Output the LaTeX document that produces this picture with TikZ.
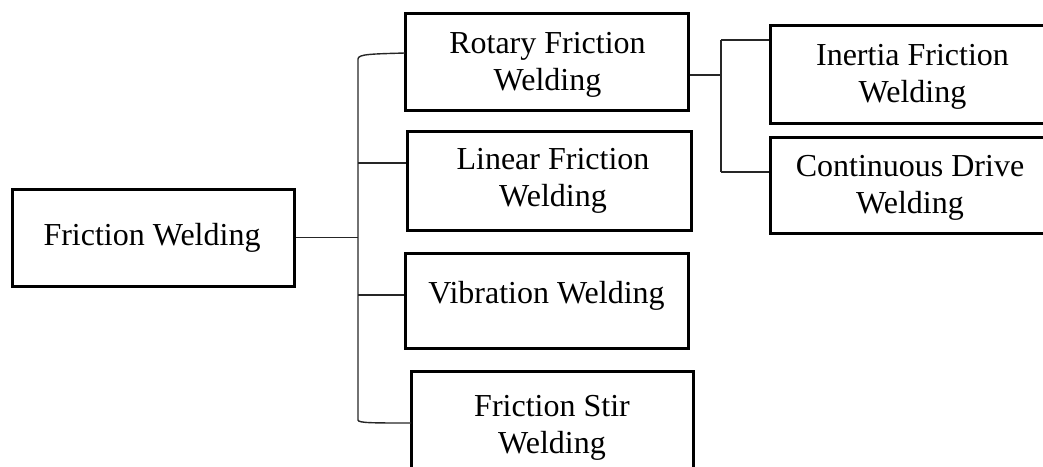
\documentclass[tikz,border=0pt]{standalone}
\usepackage{fontspec}
\setmainfont{Liberation Serif}
\begin{document}
\begin{tikzpicture}[x=1pt,y=-1pt,
  box/.style={draw=black,line width=3pt,inner sep=0pt,fill=none},
  lbl/.style={font=\fontsize{32}{37}\selectfont,align=center,anchor=base,inner sep=0pt},
  link/.style={draw=black!85,line width=1.4pt}]
\useasboundingbox (0,0) rectangle (1043,466);
\clip (0,0) rectangle (1043,466);

% boxes
\node[box,minimum width=282pt,minimum height=97pt] (fw)    at (153,237.5) {};
\node[box,minimum width=283pt,minimum height=97pt] (rot)   at (546.5,61.5) {};
\node[box,minimum width=284pt,minimum height=99pt] (lin)   at (549,180.5) {};
\node[box,minimum width=283pt,minimum height=95pt] (vib)   at (546.5,300.5) {};
\node[box,minimum width=282pt,minimum height=99pt] (stir)  at (552,420.5) {};
\node[box,minimum width=285pt,minimum height=98pt] (inert) at (912.5,74) {};
\node[box,minimum width=280pt,minimum height=96pt] (cd)    at (910,185) {};

% labels (base anchor sits on the last line)
\node[lbl] (tfw)    at (152,245)   {Friction Welding};
\node[lbl] (trot)   at (547.5,90)  {Rotary Friction\\Welding};
\node[lbl] (tlin)   at (553,206)   {Linear Friction\\Welding};
\node[lbl] (tvib)   at (546.5,303) {Vibration Welding};
\node[lbl] (tstir)  at (552,453)   {Friction Stir\\Welding};
\node[lbl] (tinert) at (912.5,102) {Inertia Friction\\Welding};
\node[lbl] (tcd)    at (910,213)   {Continuous Drive\\Welding};

% junction points of the left bracket
\coordinate (jm) at (358,237.5);
\coordinate (jt) at (358,59);
\coordinate (jb) at (358,420);
\coordinate (j2) at (358,163);
\coordinate (j3) at (358,295);
\coordinate (jtopend) at (405,53);
\coordinate (jbotend) at (411,423);

% junction points of the right connector
\coordinate (r0) at (721,75);
\coordinate (r1) at (721,40);
\coordinate (r2) at (721,172);

% left bracket
\draw[link] (fw.east) -- (jm);
\draw[link] (jtopend) .. controls (372,54) and (358,54) .. (jt) -- (jb)
  .. controls (358,423) and (372,423) .. (jbotend);
\draw[link] (j2) -- (lin.west |- j2);
\draw[link] (j3) -- (vib.west |- j3);

% right connector
\draw[link] (rot.east |- r0) -- (r0);
\draw[link] (r1) -- (r2);
\draw[link] (r1) -- (inert.west |- r1);
\draw[link] (r2) -- (cd.west |- r2);
\end{tikzpicture}
\end{document}
